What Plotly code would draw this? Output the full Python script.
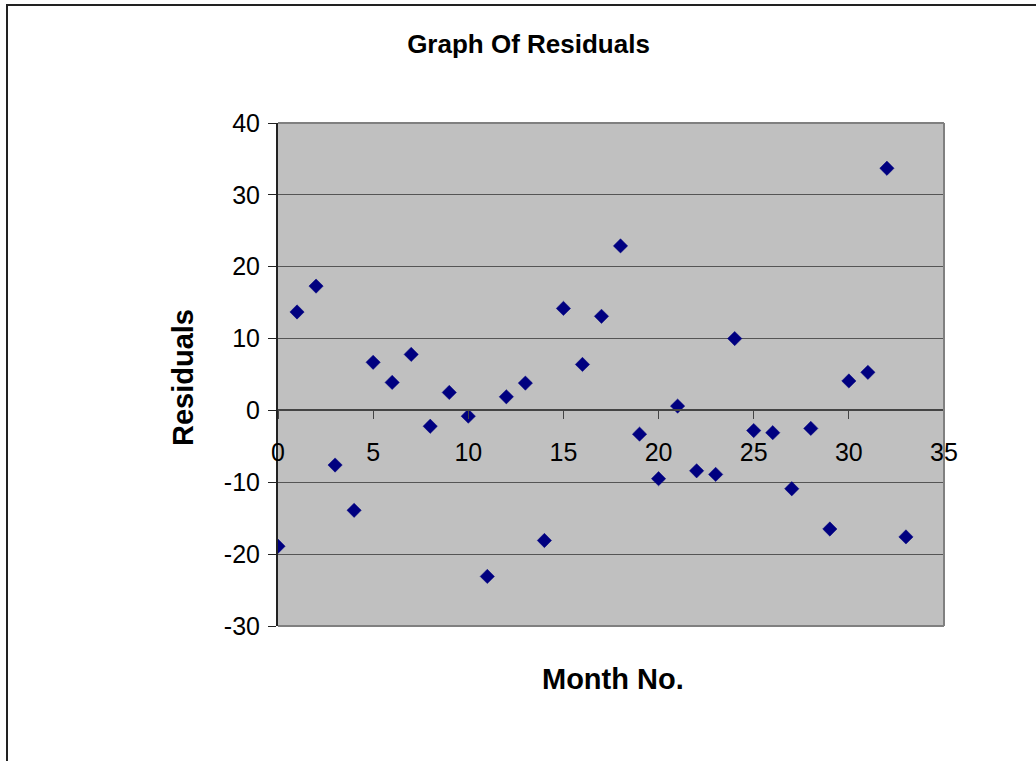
import plotly.graph_objects as go

month_no = list(range(0, 34))
residuals = [-18.9, 13.7, 17.3, -7.6, -13.9, 6.7, 3.9, 7.8, -2.2, 2.5,
             -0.8, -23.1, 1.9, 3.8, -18.1, 14.2, 6.4, 13.1, 22.9, -3.3,
             -9.5, 0.6, -8.4, -8.9, 10.0, -2.8, -3.1, -10.9, -2.5, -16.5,
             4.1, 5.3, 33.7, -17.6]

x_ticks = [0, 5, 10, 15, 20, 25, 30, 35]
y_ticks = [-30, -20, -10, 0, 10, 20, 30, 40]

FONT = "Liberation Sans, Arial, sans-serif"

fig = go.Figure()
fig.add_trace(go.Scatter(
    x=month_no, y=residuals, mode="markers",
    marker=dict(symbol="diamond", size=11, color="#000080",
                line=dict(width=0.5, color="#000080")),
    showlegend=False, hoverinfo="x+y"))

L, R, T, B = 278, 92, 123, 135
W, H = 1036, 761
pw = W - L - R
ph = H - T - B

def px(xp):
    return (xp - L) / pw

def py(yp):
    return (H - B - yp) / ph

fig.update_layout(
    width=W, height=H,
    margin=dict(l=L, r=R, t=T, b=B, pad=0),
    paper_bgcolor="white", plot_bgcolor="#C0C0C0",
    font=dict(family=FONT, color="black"),
    title=dict(text="<b>Graph Of Residuals</b>", font=dict(size=26, family=FONT),
               x=px(528.5), xref="paper", xanchor="center",
               y=1 - 44 / H, yref="container", yanchor="middle"),
    xaxis=dict(range=[0, 35], tickvals=x_ticks, ticktext=[str(v) for v in x_ticks],
               anchor="free", position=30 / 70,
               showline=True, linecolor="#444444", linewidth=2,
               ticks="outside", ticklen=8, tickwidth=1, tickcolor="#444444",
               showgrid=False, zeroline=False,
               tickfont=dict(size=25, family=FONT), ticklabelstandoff=12),
    yaxis=dict(range=[-30, 40], tickvals=y_ticks, ticktext=[str(v) for v in y_ticks],
               showline=True, linecolor="#222222", linewidth=2,
               ticks="outside", ticklen=8, tickwidth=1, tickcolor="#222222",
               showgrid=True, gridcolor="#555555", gridwidth=1, zeroline=False,
               tickfont=dict(size=25, family=FONT), ticklabelstandoff=3),
    annotations=[
        dict(text="<b>Month No.</b>", x=px(612.5), y=py(679), xref="paper", yref="paper",
             xanchor="center", yanchor="middle", showarrow=False,
             font=dict(size=29, family=FONT)),
        dict(text="<b>Residuals</b>", x=px(183), y=py(378), xref="paper", yref="paper",
             xanchor="center", yanchor="middle", showarrow=False, textangle=-90,
             font=dict(size=29, family=FONT)),
    ],
    shapes=[
        # plot-area frame (top, right, bottom)
        dict(type="line", xref="paper", yref="paper", x0=0, x1=1, y0=1, y1=1,
             line=dict(color="#808080", width=2), layer="above"),
        dict(type="line", xref="paper", yref="paper", x0=1, x1=1, y0=0, y1=1,
             line=dict(color="#808080", width=2), layer="above"),
        dict(type="line", xref="paper", yref="paper", x0=0, x1=1, y0=0, y1=0,
             line=dict(color="#808080", width=2), layer="above"),
        # chart-area border (extends beyond the image at right and bottom)
        dict(type="rect", xref="paper", yref="paper", x0=px(7), x1=px(W + 50),
             y0=py(H + 50), y1=py(5), line=dict(color="#222222", width=2),
             fillcolor="rgba(0,0,0,0)", layer="above"),
    ],
)

fig.write_html("out.html")
